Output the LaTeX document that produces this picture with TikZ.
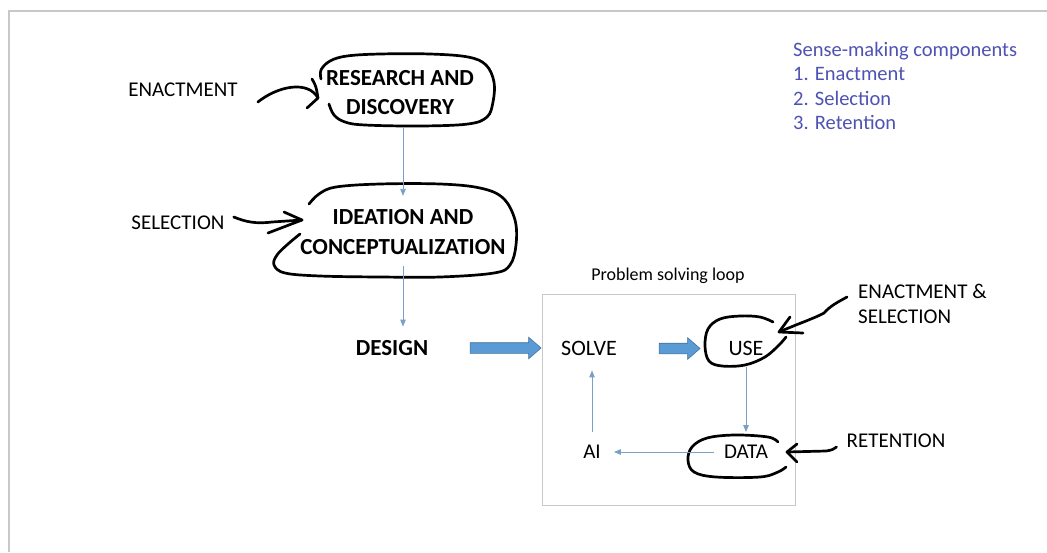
\documentclass[tikz,border=0pt]{standalone}
\usepackage{fontspec}
\setmainfont{Carlito}
\usetikzlibrary{arrows.meta,shapes.arrows,calc}
\definecolor{thinblue}{RGB}{122,160,200}
\definecolor{blockfill}{RGB}{91,155,213}
\definecolor{blockdraw}{RGB}{65,113,156}
\definecolor{sensecol}{RGB}{78,82,180}
\definecolor{framecol}{RGB}{200,200,200}
\begin{document}
\begin{tikzpicture}[x=1pt,y=-1pt,
  lbl/.style={font=\fontsize{21}{24}\selectfont, inner sep=0pt, align=center},
  blbl/.style={font=\fontsize{23}{29.5}\selectfont\bfseries, inner sep=0pt, align=center},
  senselbl/.style={font=\fontsize{20.5}{24}\selectfont, text=sensecol, inner sep=0pt, anchor=base west},
  hand/.style={line width=2.7pt, line cap=round, line join=round},
  thinarrow/.style={draw=thinblue, line width=0.9pt, -{Triangle[length=7pt,width=5.5pt]}},
  blockarrow/.style={single arrow, fill=blockfill, draw=blockdraw, line width=0.6pt,
     inner xsep=0pt, inner ysep=5pt, single arrow head extend=5.5pt,
     single arrow tip angle=82, anchor=center},
  framebox/.style={draw=framecol, line width=1pt}
]
\useasboundingbox (0,0) rectangle (1047,552);
\fill[white] (0,0) rectangle (1047,552);
% outer frame
\draw[framecol, line width=1.5pt] (1047,11) -- (9,11) -- (9,552);

% main nodes
\node[blbl] (rd) at (400,92.5) {RESEARCH AND\\DISCOVERY};
\node[blbl] (ic) at (403,232) {IDEATION AND\\CONCEPTUALIZATION};
\node[blbl] (design) at (392,348) {DESIGN};
\node[lbl] (enact) at (183,90) {ENACTMENT};
\node[lbl] (select) at (178,223) {SELECTION};
\node[lbl, font=\fontsize{22}{24}\selectfont] (solve) at (589,348) {SOLVE};
\node[lbl, font=\fontsize{22}{24}\selectfont] (use) at (746,348) {USE};
\node[lbl] (data) at (746,452) {DATA};
\node[lbl] (ai) at (592,452) {AI};
\node[lbl, align=left, anchor=west, font=\fontsize{21}{24.5}\selectfont] (es) at (858,304) {ENACTMENT \&\\SELECTION};
\node[lbl] (ret) at (896,441) {RETENTION};
\node[font=\fontsize{18}{20}\selectfont, inner sep=0pt] (loop) at (668,276) {Problem solving loop};

% legend
\node[senselbl] (sm0) at (793,56) {Sense-making components};
\node[senselbl] (sm1) at (793,80.5) {1. Enactment};
\node[senselbl] (sm2) at (793,105) {2. Selection};
\node[senselbl] (sm3) at (793,129.5) {3. Retention};

% problem solving loop frame
\draw[framebox] (542,294) rectangle (795,505);

% hand-drawn blobs
\draw[hand] plot[smooth, tension=0.6] coordinates {(321,79) (321,70) (330,61) (347,56) (380,54) (430,54) (468,57) (486,65) (494,82) (493,102) (487,117) (468,124) (420,126) (365,125) (345,122) (334,115) (329,104)};
\draw[hand] plot[smooth, tension=0.6] coordinates {(309,204) (319,194) (336,187) (380,184) (440,184) (480,188) (503,198) (515,220) (516,245) (510,265) (494,273) (440,277) (380,277) (320,276) (285,273) (274,265) (277,255) (288,244) (300,234)};
\draw[hand] plot[smooth, tension=0.6] coordinates {(773,322) (760,317) (740,316) (720,319) (708,329) (705,346) (709,361) (722,366) (745,365) (765,357) (779,345) (786,337)};
\draw[hand] plot[smooth, tension=0.6] coordinates {(778,442) (768,437) (735,435) (707,438) (692,447) (688,460) (694,472) (716,477) (760,477) (778,472) (786,467)};

% hand-drawn arrows
\coordinate (enactTip) at (318,98);
\draw[hand] ($(enact.east)+(20,12)$) .. controls (278,86) and (308,80) .. (enactTip);
\draw[hand] (312,79) .. controls (316,86) .. (enactTip) -- (307,108);
\coordinate (selTip) at (302,220);
\draw[hand] ($(select.east)+(9,-6)$) .. controls (246,222) and (256,224) .. (272,222) -- (selTip);
\draw[hand] (284,212) -- (selTip) -- (268,233);
\coordinate (esTip) at (779,332);
\draw[hand] ($(es.west)+(-11,-7)$) .. controls (838,302) and (830,306) .. (824,313) .. controls (815,318) and (800,323) .. (esTip);
\draw[hand] (790,317) -- (esTip) -- (803,333);
\coordinate (retTip) at (787,452);
\draw[hand] ($(ret.west)+(-10,6)$) .. controls (832,450) .. (826,451) -- (retTip);
\draw[hand] (797,444) -- (retTip) -- (797,462);

% thin blue connectors
\draw[thinarrow] ($(ic.north |- rd.south)+(0,12.5)$) -- ($(ic.north)+(0,-13.6)$);
\draw[thinarrow] ($(ic.south)+(0,11.6)$) -- ($(ic.south |- design.north)+(0,-13.6)$);
\draw[thinarrow] ($(use.south)+(0,12)$) -- ($(use.south |- data.north)+(0,-13)$);
\draw[thinarrow] ($(data.west)+(-10,0)$) -- ($(ai.east)+(13,0)$);
\draw[thinarrow] ($(ai.north)+(0,-13)$) -- ($(ai.north |- solve.south)+(0,15)$);

% block arrows
\node[blockarrow, minimum height=71pt] (b1) at (502.5,348) {};
\node[blockarrow, minimum height=41pt] (b2) at (676.5,348.5) {};
\end{tikzpicture}
\end{document}
